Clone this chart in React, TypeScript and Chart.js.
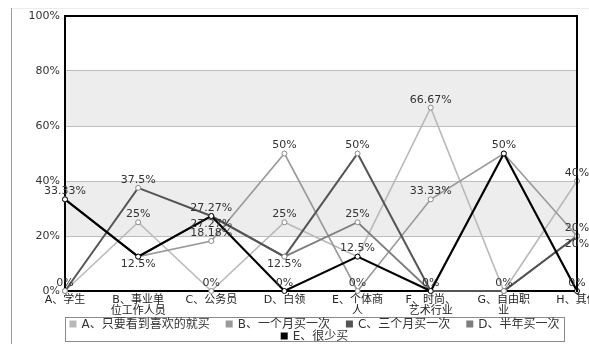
import { useEffect, useRef } from "react";
import { Chart, registerables } from "chart.js";

Chart.register(...registerables);

// Occupation categories (x axis), multi-line where the label wraps
const categories: string[][] = [
  ["A、学生"],
  ["B、事业单", "位工作人员"],
  ["C、公务员"],
  ["D、白领"],
  ["E、个体商", "人"],
  ["F、时尚、", "艺术行业"],
  ["G、自由职", "业"],
  ["H、其他"],
];

const seriesNames = [
  "A、只要看到喜欢的就买",
  "B、一个月买一次",
  "C、三个月买一次",
  "D、半年买一次",
  "E、很少买",
];

// Share of each occupation (%) per purchase frequency
const buyOnSight = [0, 25, 0, 25, 12.5, 66.67, 0, 40];
const monthly = [33.33, 12.5, 18.18, 50, 0, 33.33, 50, 20];
const quarterly = [0, 37.5, 27.27, 12.5, 50, 0, 0, 20];
const halfYearly = [33.33, 12.5, 27.27, 12.5, 25, 0, 0, 20];
const rarely = [33.33, 12.5, 27.27, 0, 12.5, 0, 50, 0];

const yTickValues = [0, 20, 40, 60, 80, 100];
const shadedBands: [number, number][] = [
  [20, 40],
  [60, 80],
];

const seriesColors = ["#b9b9b9", "#999999", "#555555", "#7d7d7d", "#000000"];
const seriesWidths = [1.6, 1.6, 2, 1.8, 2.2];
const seriesOrder = [4, 3, 1, 2, 0];
// "auto": label goes under the point when the value dropped from the previous one
const labelPlacement = ["above", "auto", "auto", "auto", "auto"];

const FONT = "'DejaVu Sans', 'Noto Sans CJK SC', sans-serif";

const decorPlugin = {
  id: "decor",
  beforeDraw(chart: any) {
    const { ctx, chartArea } = chart;
    const y = chart.scales.y;
    ctx.save();
    // page frame line on the left and a faint one on top
    ctx.fillStyle = "#9a9a9a";
    ctx.fillRect(11, 8, 1, chart.height - 8);
    ctx.fillStyle = "#ececec";
    ctx.fillRect(12, 8, chart.width - 12, 1);
    // alternating shaded bands
    ctx.fillStyle = "#ededed";
    shadedBands.forEach(([lo, hi]) => {
      const yTop = y.getPixelForValue(hi);
      const yBot = y.getPixelForValue(lo);
      ctx.fillRect(chartArea.left, yTop, chartArea.right - chartArea.left, yBot - yTop);
    });
    ctx.restore();
  },
  afterDatasetsDraw(chart: any) {
    const { ctx, chartArea } = chart;
    const { left, right, top, bottom } = chartArea;
    ctx.save();
    // top and right edges of the plot frame
    ctx.strokeStyle = "#000";
    ctx.lineWidth = 2;
    ctx.beginPath();
    ctx.moveTo(left - 1, top);
    ctx.lineTo(right, top);
    ctx.lineTo(right, bottom + 1);
    ctx.stroke();

    // value labels
    ctx.font = `11px ${FONT}`;
    ctx.fillStyle = "#333";
    ctx.textAlign = "center";
    ctx.textBaseline = "middle";
    const drawn = new Set<string>();
    chart.data.datasets.forEach((ds: any, i: number) => {
      const meta = chart.getDatasetMeta(i);
      const vals = ds.data as number[];
      meta.data.forEach((pt: any, j: number) => {
        const v = vals[j];
        const below =
          labelPlacement[i] === "auto" && v > 0 && j > 0 && v < vals[j - 1];
        const ly = pt.y + (below ? 8 : -8);
        const key = `${v}@${Math.round(pt.x)},${Math.round(ly)}`;
        if (drawn.has(key)) return;
        drawn.add(key);
        ctx.fillText(`${v}%`, pt.x, ly);
      });
    });
    ctx.restore();
  },
  afterDraw(chart: any) {
    const { ctx, chartArea } = chart;
    const boxLeft = chartArea.left;
    const boxRight = chartArea.right - 13;
    const boxTop = chartArea.bottom + 26;
    const boxBottom = chart.height - 3;
    ctx.save();
    ctx.strokeStyle = "#8a8a8a";
    ctx.lineWidth = 1;
    ctx.strokeRect(boxLeft + 0.5, boxTop + 0.5, boxRight - boxLeft, boxBottom - boxTop);

    ctx.font = `12px ${FONT}`;
    ctx.textBaseline = "middle";
    ctx.textAlign = "left";
    const sq = 7;
    const gapText = 5;
    const gapItem = 16;
    const rows = [
      [0, 1, 2, 3],
      [4],
    ];
    const rowY = [boxTop + 7, boxTop + 19];
    const cx = (boxLeft + boxRight) / 2;
    rows.forEach((row, r) => {
      const widths = row.map((k) => sq + gapText + ctx.measureText(seriesNames[k]).width);
      const total = widths.reduce((a, b) => a + b, 0) + gapItem * (row.length - 1);
      let x = cx - total / 2;
      row.forEach((k, n) => {
        ctx.fillStyle = seriesColors[k];
        ctx.fillRect(x, rowY[r] - sq / 2, sq, sq);
        ctx.fillStyle = "#333";
        ctx.fillText(seriesNames[k], x + sq + gapText, rowY[r] + 0.5);
        x += widths[n] + gapItem;
      });
    });
    ctx.restore();
  },
};

export default function App() {
  const canvasRef = useRef<HTMLCanvasElement | null>(null);

  useEffect(() => {
    if (!canvasRef.current) return;
    const seriesData = [buyOnSight, monthly, quarterly, halfYearly, rarely];
    const chart = new Chart(canvasRef.current, {
      type: "line",
      data: {
        labels: categories,
        datasets: seriesData.map((d, i) => ({
          label: seriesNames[i],
          data: d,
          borderColor: seriesColors[i],
          borderWidth: seriesWidths[i],
          pointRadius: 2.5,
          pointBorderWidth: 1,
          pointBackgroundColor: "#ffffff",
          pointBorderColor: i === 4 ? "#000" : "#8a8a8a",
          tension: 0,
          order: seriesOrder[i],
          clip: 6,
        })),
      },
      options: {
        animation: false,
        responsive: false,
        maintainAspectRatio: false,
        layout: { padding: { top: 16, right: 12, bottom: 0, left: 0 } },
        plugins: {
          legend: { display: false },
          tooltip: { enabled: false },
        },
        scales: {
          x: {
            offset: false,
            grid: { display: false, drawTicks: false },
            border: { color: "#000", width: 2 },
            ticks: {
              autoSkip: false,
              maxRotation: 0,
              minRotation: 0,
              padding: 3,
              color: "#222",
              font: { family: FONT, size: 11, lineHeight: 1.05 },
            },
            afterFit(scale: any) {
              scale.height = 53;
              scale.paddingLeft = 0;
              scale.paddingRight = 0;
            },
          },
          y: {
            min: 0,
            max: 100,
            afterBuildTicks(scale: any) {
              scale.ticks = yTickValues.map((v) => ({ value: v }));
            },
            grid: { color: "#bdbdbd", lineWidth: 1, drawTicks: false },
            border: { color: "#000", width: 2 },
            ticks: {
              padding: 5,
              color: "#333",
              font: { family: FONT, size: 11 },
              callback: (v: any) => `${v}%`,
            },
            afterFit(scale: any) {
              scale.width = 65;
              scale.paddingTop = 0;
              scale.paddingBottom = 0;
            },
          },
        },
      },
      plugins: [decorPlugin],
    });
    return () => chart.destroy();
  }, []);

  return (
    <div style={{ position: "fixed", left: 0, top: 0, width: 589, height: 344, background: "#fff" }}>
      <canvas ref={canvasRef} width={589} height={344} style={{ width: 589, height: 344, display: "block" }} />
    </div>
  );
}
